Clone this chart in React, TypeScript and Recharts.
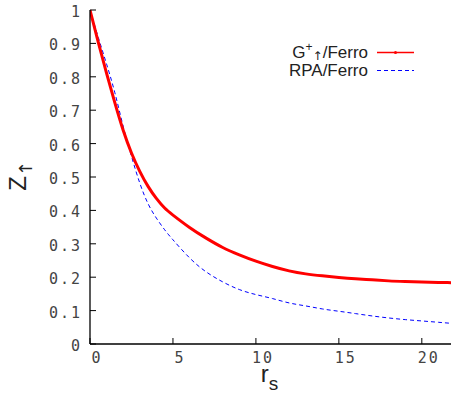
import React from "react";
import { LineChart, Line, XAxis, YAxis } from "recharts";

const rsValues = [0, 0.5, 1, 1.5, 2, 2.5, 3, 3.5, 4, 4.5, 5, 6, 7, 8, 9, 10, 11, 12, 13, 14, 15, 16, 17, 18, 19, 20, 21, 22];
const gPlusFerro = [1.0, 0.903, 0.81, 0.722, 0.64, 0.572, 0.517, 0.472, 0.436, 0.407, 0.386, 0.349, 0.317, 0.289, 0.267, 0.248, 0.232, 0.219, 0.21, 0.204, 0.199, 0.195, 0.192, 0.189, 0.187, 0.1855, 0.1845, 0.1835];
const rpaFerro = [1.0, 0.918, 0.838, 0.752, 0.652, 0.562, 0.482, 0.42, 0.377, 0.342, 0.312, 0.258, 0.216, 0.186, 0.163, 0.148, 0.136, 0.123, 0.114, 0.105, 0.098, 0.091, 0.084, 0.078, 0.073, 0.069, 0.065, 0.061];
const xTicks = [0, 5, 10, 15, 20];
const yTicks = [0, 0.1, 0.2, 0.3, 0.4, 0.5, 0.6, 0.7, 0.8, 0.9, 1];

const data = rsValues.map((r, i) => ({ r, g: gPlusFerro[i], rpa: rpaFerro[i] }));

const TICK_FONT = "'DejaVu Sans Mono', monospace";
const TEXT_FONT = "'Liberation Sans', Arial, sans-serif";
const TICK_LEN = 6;

const fmt = (v: number) => String(Number(v.toFixed(1)));

const XTick = (props: any) => {
  const { x, y, payload } = props;
  return (
    <g>
      <line x1={x} x2={x} y1={y} y2={y - TICK_LEN} stroke="#000" strokeWidth={1} />
      <text x={x + 7} y={y + 19} textAnchor="middle" fontFamily={TICK_FONT} fontSize={15} letterSpacing={2} fill="#444">
        {fmt(payload.value)}
      </text>
    </g>
  );
};

const TopTick = (props: any) => {
  const { x, y } = props;
  return <line x1={x} x2={x} y1={y} y2={y + TICK_LEN} stroke="#000" strokeWidth={1} />;
};

const YTick = (props: any) => {
  const { x, y, payload } = props;
  return (
    <g>
      <line x1={x} x2={x + TICK_LEN} y1={y} y2={y} stroke="#000" strokeWidth={1} />
      <text x={x - 8} y={y + 7} textAnchor="end" fontFamily={TICK_FONT} fontSize={15} letterSpacing={2} fill="#444">
        {fmt(payload.value)}
      </text>
    </g>
  );
};

const RightTick = (props: any) => {
  const { x, y } = props;
  return <line x1={x} x2={x - TICK_LEN} y1={y} y2={y} stroke="#000" strokeWidth={1} />;
};

const XLabel = (props: any) => {
  const vb = props.viewBox || { x: 90, y: 344, width: 365, height: 50 };
  const cx = vb.x + vb.width / 2 - 3;
  const by = vb.y + 38;
  return (
    <text x={cx} y={by} textAnchor="middle" fontFamily={TEXT_FONT} fontSize={24} fill="#222">
      r
      <tspan dy={8} fontSize={19}>s</tspan>
    </text>
  );
};

export default function App() {
  return (
    <div style={{ position: "fixed", left: 0, top: 0, width: 451, height: 394, overflow: "hidden", background: "#fff" }}>
      <LineChart width={460} height={394} data={data} margin={{ top: 10, right: 5, left: 0, bottom: 0 }}>
        <XAxis
          dataKey="r"
          type="number"
          domain={[0, 22]}
          ticks={xTicks}
          interval={0}
          allowDataOverflow
          height={50}
          tickSize={0}
          tickMargin={0}
          tickLine={false}
          axisLine={{ stroke: "#000", strokeWidth: 1.3 }}
          tick={<XTick />}
          label={<XLabel />}
        />
        <XAxis
          xAxisId="top"
          dataKey="r"
          type="number"
          orientation="top"
          domain={[0, 22]}
          ticks={xTicks}
          interval={0}
          height={0}
          tickSize={0}
          tickMargin={0}
          tickLine={false}
          axisLine={{ stroke: "#000", strokeWidth: 1.3 }}
          tick={<TopTick />}
        />
        <YAxis
          type="number"
          domain={[0, 1]}
          ticks={yTicks}
          interval={0}
          width={90}
          tickSize={0}
          tickMargin={0}
          tickLine={false}
          axisLine={{ stroke: "#000", strokeWidth: 1.3 }}
          tick={<YTick />}
        />
        <YAxis
          yAxisId="right"
          type="number"
          orientation="right"
          domain={[0, 1]}
          ticks={yTicks}
          interval={0}
          width={0}
          tickSize={0}
          tickMargin={0}
          tickLine={false}
          axisLine={{ stroke: "#000", strokeWidth: 1.3 }}
          tick={<RightTick />}
        />
        <Line
          type="natural"
          dataKey="rpa"
          stroke="#0000ff"
          strokeWidth={1}
          strokeDasharray="4 3"
          dot={false}
          isAnimationActive={false}
        />
        <Line
          type="natural"
          dataKey="g"
          stroke="#ff0000"
          strokeWidth={3}
          dot={false}
          isAnimationActive={false}
        />
      </LineChart>
      <div
        style={{
          position: "absolute",
          left: 3,
          top: 151,
          width: 30,
          height: 50,
          lineHeight: "30px",
          writingMode: "sideways-lr" as any,
          textAlign: "center",
          fontFamily: TEXT_FONT,
          fontSize: 24,
          color: "#222",
          whiteSpace: "nowrap",
        }}
      >
        Z<span style={{ fontSize: 18, verticalAlign: "-6px", fontFamily: "'DejaVu Sans', sans-serif" }}>↑</span>
      </div>
      <svg width={451} height={394} style={{ position: "absolute", left: 0, top: 0, pointerEvents: "none" }}>
        <text x={368} y={58} textAnchor="end" fontFamily={TEXT_FONT} fontSize={17} fill="#222">
          G
          <tspan dy={-7} fontSize={12}>+</tspan>
          <tspan dy={9} fontSize={12} fontFamily="'DejaVu Sans', sans-serif">↑</tspan>
          <tspan dy={-2}>/Ferro</tspan>
        </text>
        <line x1={377} x2={414} y1={52.5} y2={52.5} stroke="#ff0000" strokeWidth={1.5} />
        <circle cx={395.5} cy={52.5} r={1.5} fill="#ff0000" />
        <text x={368} y={76} textAnchor="end" fontFamily={TEXT_FONT} fontSize={17} fill="#222">
          RPA/Ferro
        </text>
        <line x1={377} x2={414} y1={70.5} y2={70.5} stroke="#0000ff" strokeWidth={1} strokeDasharray="4 3" />
      </svg>
    </div>
  );
}
